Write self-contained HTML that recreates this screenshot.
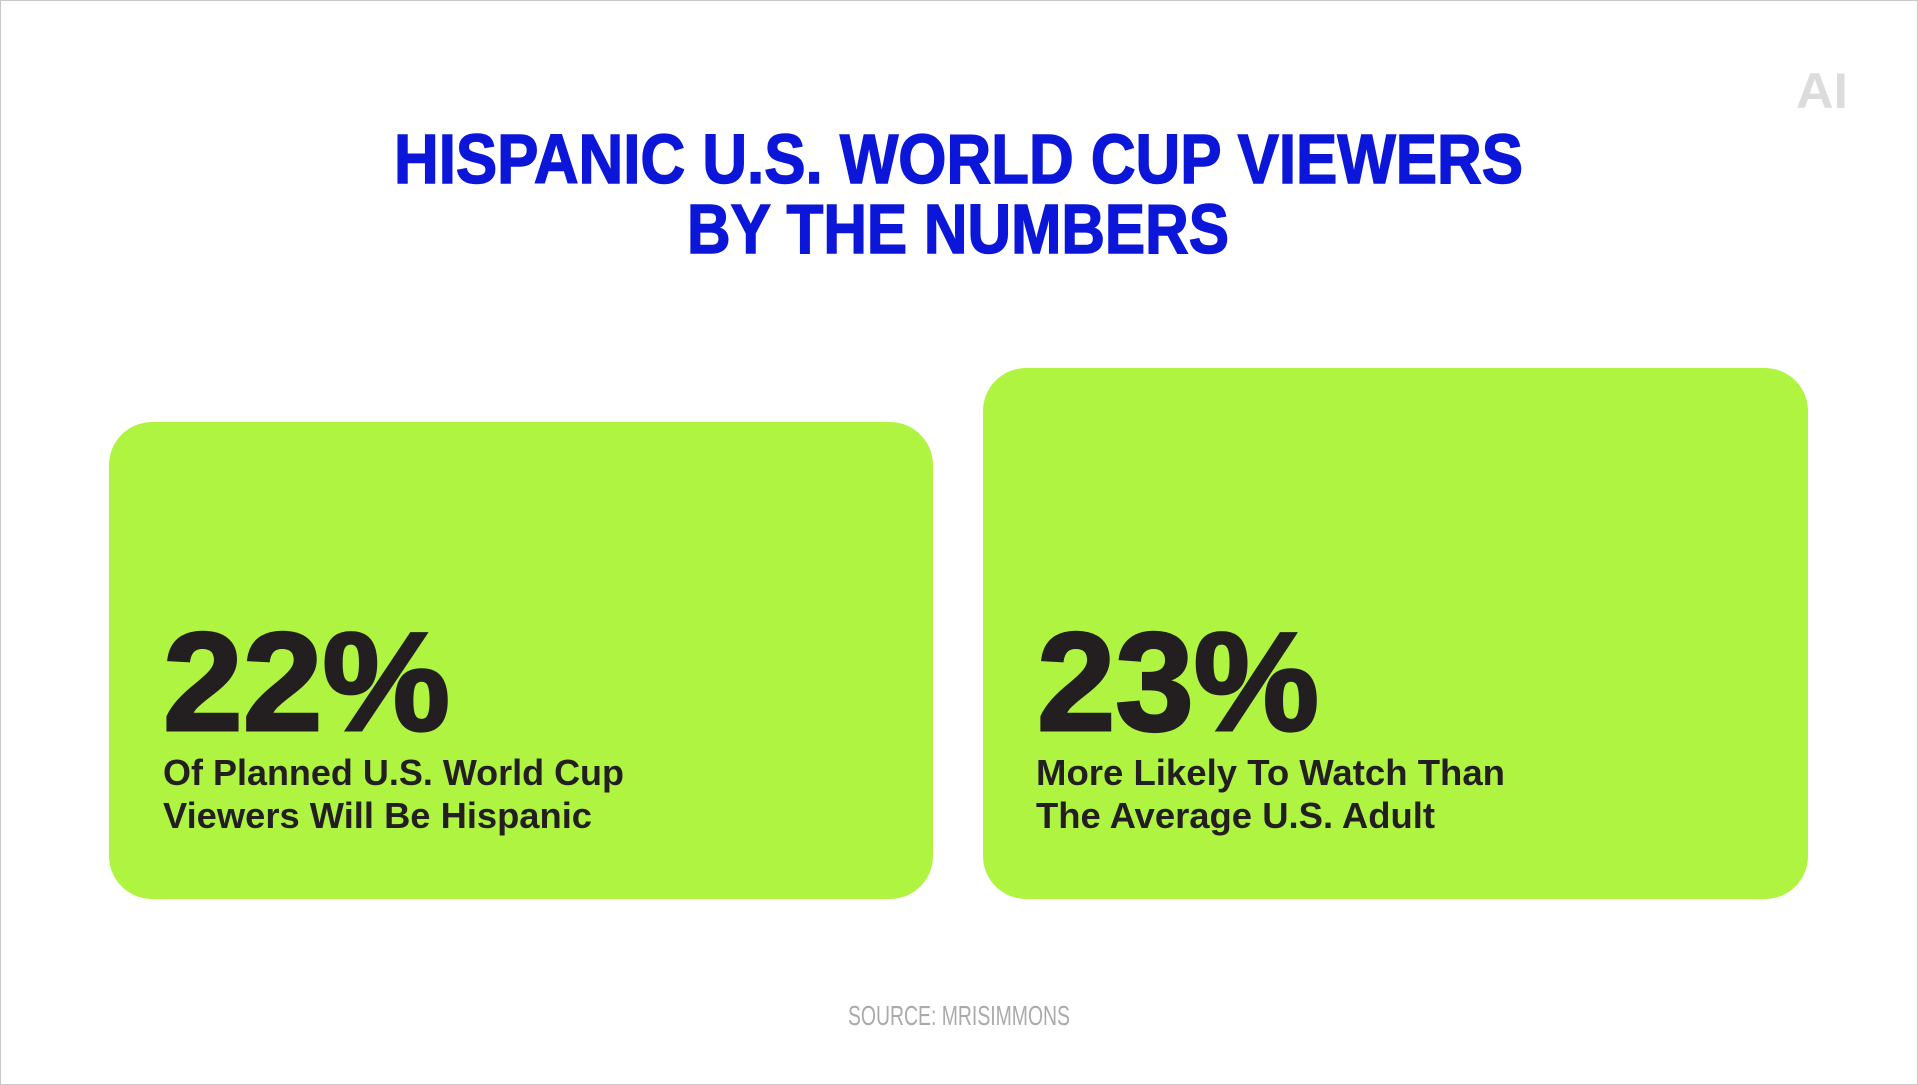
<!DOCTYPE html>
<html><head><meta charset="utf-8"><style>
html,body{margin:0;padding:0;background:#fff;}
svg{display:block;}
</style></head><body>
<svg width="1918" height="1085" viewBox="0 0 1918 1085" xmlns="http://www.w3.org/2000/svg">
<rect x="0.5" y="0.5" width="1917" height="1084" fill="#fff" stroke="#c8c8c8"/>
<text x="1822" y="108" text-anchor="middle" font-family="Liberation Sans, sans-serif" font-weight="bold" font-size="50" fill="#dcdcdc" textLength="52" lengthAdjust="spacingAndGlyphs">AI</text>
<g font-family="Liberation Sans, sans-serif" font-weight="bold" fill="#0b16d9" stroke="#0b16d9" stroke-width="1.5">
<text x="394" y="183" font-size="70" textLength="1129" lengthAdjust="spacingAndGlyphs">HISPANIC U.S. WORLD CUP VIEWERS</text>
<text x="687" y="253" font-size="70" textLength="542" lengthAdjust="spacingAndGlyphs">BY THE NUMBERS</text>
</g>
<g>
<rect x="109" y="422" width="824" height="477" rx="43" fill="#b0f442"/>
<text x="163" y="730" font-family="Liberation Sans, sans-serif" font-weight="bold" font-size="140" fill="#231f20" stroke="#231f20" stroke-width="3" textLength="287" lengthAdjust="spacingAndGlyphs">22%</text>
<text x="163" y="785" font-family="Liberation Sans, sans-serif" font-weight="bold" font-size="36" fill="#231f20" textLength="461" lengthAdjust="spacingAndGlyphs">Of Planned U.S. World Cup</text>
<text x="163" y="828" font-family="Liberation Sans, sans-serif" font-weight="bold" font-size="36" fill="#231f20" textLength="429" lengthAdjust="spacingAndGlyphs">Viewers Will Be Hispanic</text>
</g>
<g>
<rect x="983" y="368" width="825" height="531" rx="43" fill="#b0f442"/>
<text x="1037" y="730" font-family="Liberation Sans, sans-serif" font-weight="bold" font-size="140" fill="#231f20" stroke="#231f20" stroke-width="3" textLength="282" lengthAdjust="spacingAndGlyphs">23%</text>
<text x="1036" y="785" font-family="Liberation Sans, sans-serif" font-weight="bold" font-size="36" fill="#231f20" textLength="469" lengthAdjust="spacingAndGlyphs">More Likely To Watch Than</text>
<text x="1036" y="828" font-family="Liberation Sans, sans-serif" font-weight="bold" font-size="36" fill="#231f20" textLength="399" lengthAdjust="spacingAndGlyphs">The Average U.S. Adult</text>
</g>
<text x="848" y="1025" font-family="Liberation Sans, sans-serif" font-size="28" fill="#aaaaaa" textLength="222" lengthAdjust="spacingAndGlyphs">SOURCE: MRISIMMONS</text>
</svg>
</body></html>
